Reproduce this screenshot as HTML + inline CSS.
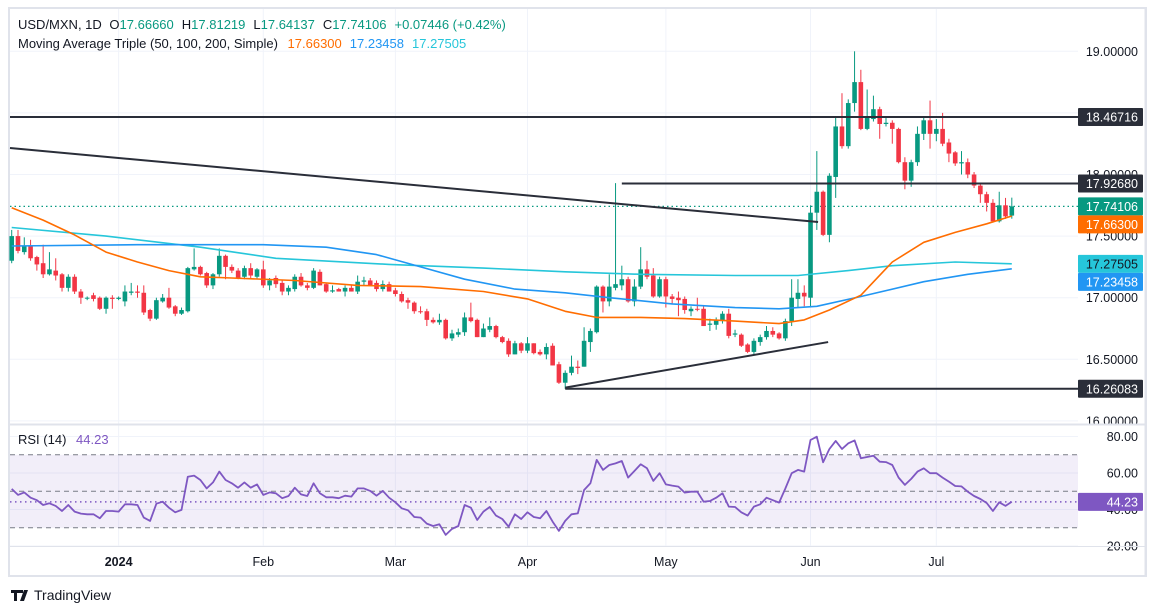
<!DOCTYPE html>
<html><head><meta charset="utf-8"><style>
html,body{margin:0;padding:0;background:#fff;}
svg{display:block;font-family:"Liberation Sans",sans-serif;}
</style></head><body>
<svg id="chart" width="1157" height="613" viewBox="0 0 1157 613" xmlns="http://www.w3.org/2000/svg">
<rect x="0" y="0" width="1157" height="613" fill="#fff"/>
<rect x="9" y="8" width="1137" height="568" fill="none" stroke="#e0e3eb" stroke-width="2"/>
<g id="grid"></g>
<g id="rsiBg"></g>
<g id="overlays"></g>
<g id="candles"></g>
<g id="mas"></g>
<g id="lines"></g>
<g id="rsi"></g>
<g id="axis"></g>
<line x1="9" y1="424.5" x2="1146" y2="424.5" stroke="#e0e3eb" stroke-width="2"/>
<line x1="9" y1="546.5" x2="1146" y2="546.5" stroke="#e0e3eb" stroke-width="1"/>
<line x1="1145" y1="8" x2="1145" y2="576" stroke="#e0e3eb" stroke-width="1"/>
<text x="18" y="29" font-size="13" fill="#131722">USD/MXN, 1D <tspan dx="4">O</tspan><tspan fill="#089981">17.66660</tspan><tspan dx="8">H</tspan><tspan fill="#089981">17.81219</tspan><tspan dx="8">L</tspan><tspan fill="#089981">17.64137</tspan><tspan dx="8">C</tspan><tspan fill="#089981">17.74106</tspan><tspan dx="8" fill="#089981">+0.07446 (+0.42%)</tspan></text>
<text x="18" y="48" font-size="13" fill="#131722">Moving Average Triple (50, 100, 200, Simple) <tspan dx="6" fill="#FF6D00">17.66300</tspan><tspan dx="8" fill="#2196F3">17.23458</tspan><tspan dx="8" fill="#26C6DA">17.27505</tspan></text>
<text x="18" y="444" font-size="13" fill="#131722">RSI (14) <tspan dx="6" fill="#7E57C2">44.23</tspan></text>
<g>
<path d="M11 590h9v3h-3v8h-3v-8h-3z M20 590h3v3h-3z M24 590h4l-4 11h-4z" fill="#131722"/>
<text x="34" y="600" font-size="14" fill="#131722">TradingView</text>
</g>
</svg>
<script>
// ---- data ----
const bars = [
[17.30,17.55,17.28,17.50],[17.50,17.55,17.36,17.38],[17.37,17.49,17.35,17.42],[17.42,17.47,17.30,17.32],[17.33,17.34,17.22,17.27],
[17.28,17.43,17.16,17.19],[17.19,17.37,17.18,17.23],[17.22,17.32,17.14,17.18],[17.19,17.20,17.05,17.08],[17.08,17.19,17.05,17.17],
[17.17,17.19,17.03,17.05],[17.05,17.07,16.95,17.00],[16.995,17.01,16.98,17.00],[17.02,17.04,16.97,16.99],[17.00,17.01,16.90,16.91],
[16.91,17.01,16.87,17.00],[17.00,17.02,16.91,16.99],[16.99,17.01,16.98,17.00],[16.97,17.10,16.93,17.05],[17.04,17.12,17.02,17.05],
[17.05,17.10,17.00,17.04],[17.04,17.10,16.86,16.88],[16.90,16.91,16.81,16.83],[16.83,17.00,16.82,16.98],[16.97,17.03,16.96,17.00],
[17.00,17.08,16.91,16.92],[16.93,16.94,16.85,16.87],[16.87,16.92,16.86,16.90],[16.89,17.25,16.88,17.24],[17.23,17.40,17.22,17.25],
[17.25,17.26,17.18,17.19],[17.20,17.21,17.08,17.10],[17.10,17.20,17.07,17.19],[17.19,17.40,17.17,17.34],[17.34,17.35,17.15,17.25],
[17.25,17.27,17.20,17.22],[17.22,17.24,17.15,17.16],[17.17,17.26,17.15,17.24],[17.24,17.28,17.16,17.18],[17.17,17.24,17.15,17.23],
[17.23,17.30,17.08,17.10],[17.10,17.16,17.06,17.14],[17.16,17.18,17.08,17.11],[17.12,17.14,17.02,17.05],[17.05,17.10,17.02,17.08],
[17.07,17.19,17.05,17.17],[17.17,17.20,17.09,17.10],[17.10,17.12,17.06,17.08],[17.08,17.24,17.07,17.22],[17.21,17.23,17.10,17.10],
[17.11,17.12,17.04,17.05],[17.05,17.10,17.04,17.06],[17.07,17.08,17.05,17.05],[17.05,17.10,17.01,17.08],[17.08,17.10,17.05,17.05],
[17.05,17.18,17.03,17.13],[17.13,17.17,17.10,17.14],[17.14,17.16,17.10,17.10],[17.12,17.14,17.05,17.07],[17.07,17.14,17.05,17.11],
[17.11,17.13,17.05,17.05],[17.06,17.08,17.01,17.03],[17.03,17.05,16.96,16.97],[16.98,17.00,16.91,16.96],[16.96,16.97,16.87,16.89],
[16.89,16.93,16.87,16.885],[16.89,16.91,16.77,16.82],[16.82,16.84,16.79,16.80],[16.80,16.87,16.78,16.82],[16.82,16.83,16.66,16.67],
[16.67,16.74,16.65,16.71],[16.70,16.75,16.68,16.72],[16.72,16.88,16.69,16.84],[16.84,16.96,16.80,16.81],[16.82,16.83,16.68,16.68],
[16.68,16.79,16.68,16.75],[16.74,16.84,16.72,16.77],[16.77,16.78,16.67,16.68],[16.68,16.69,16.63,16.64],[16.65,16.67,16.52,16.54],
[16.54,16.65,16.54,16.63],[16.63,16.64,16.55,16.57],[16.57,16.68,16.55,16.63],[16.63,16.63,16.54,16.55],[16.56,16.58,16.53,16.54],
[16.54,16.63,16.50,16.60],[16.61,16.63,16.45,16.45],[16.46,16.48,16.30,16.31],[16.31,16.41,16.26,16.39],[16.39,16.53,16.37,16.44],
[16.44,16.49,16.38,16.43],[16.44,16.76,16.44,16.65],[16.64,16.75,16.56,16.73],[16.72,17.10,16.71,17.09],[17.09,17.10,16.88,16.97],
[16.97,17.19,16.93,17.09],[17.08,17.93,17.06,17.11],[17.10,17.26,17.06,17.15],[17.15,17.17,16.96,16.97],[16.97,17.15,16.93,17.09],
[17.09,17.41,17.07,17.23],[17.23,17.30,17.15,17.17],[17.18,17.24,17.00,17.01],[17.01,17.17,17.00,17.15],[17.15,17.17,16.92,17.01],
[17.01,17.03,16.95,16.99],[17.00,17.05,16.85,16.98],[16.99,17.01,16.87,16.90],[16.89,16.93,16.85,16.91],[16.91,17.00,16.89,16.905],
[16.91,16.93,16.77,16.77],[16.78,16.83,16.73,16.79],[16.78,16.84,16.74,16.82],[16.81,16.89,16.79,16.87],[16.87,16.91,16.67,16.69],
[16.70,16.74,16.68,16.71],[16.70,16.71,16.60,16.61],[16.62,16.63,16.55,16.56],[16.56,16.67,16.54,16.65],[16.64,16.70,16.61,16.68],
[16.68,16.77,16.66,16.73],[16.73,16.76,16.68,16.70],[16.71,16.72,16.66,16.67],[16.67,16.83,16.65,16.81],[16.81,17.15,16.77,17.00],
[16.99,17.15,16.92,17.04],[17.04,17.10,16.93,17.01],[17.00,17.75,16.93,17.69],[17.69,18.19,17.55,17.86],[17.86,17.87,17.50,17.51],
[17.51,18.01,17.45,17.99],[17.98,18.46,17.81,18.39],[18.39,18.66,18.21,18.23],[18.23,18.61,18.21,18.58],[18.58,19.00,18.51,18.75],
[18.75,18.85,18.36,18.37],[18.37,18.69,18.36,18.46],[18.45,18.64,18.43,18.53],[18.53,18.55,18.29,18.41],[18.41,18.47,18.39,18.42],
[18.42,18.44,18.25,18.37],[18.37,18.38,18.09,18.10],[18.10,18.14,17.88,17.95],[17.95,18.12,17.90,18.10],[18.10,18.39,18.07,18.33],
[18.33,18.46,18.28,18.44],[18.44,18.60,18.21,18.33],[18.33,18.45,18.27,18.37],[18.37,18.50,18.23,18.25],[18.26,18.29,18.10,18.17],
[18.18,18.19,18.07,18.09],[18.09,18.19,18.00,18.10],[18.10,18.13,17.97,18.00],[18.00,18.02,17.89,17.91],[17.91,17.93,17.77,17.84],
[17.84,17.86,17.70,17.77],[17.77,17.80,17.61,17.62],[17.62,17.86,17.61,17.75],[17.75,17.81,17.64,17.66],[17.6666,17.81219,17.64137,17.74106]
];
const ma50Idx = [0,5,10,15,20,25,30,35,45,55,65,75,82,88,93,100,107,115,122,126,130,135,140,145,150,155,159];
const ma50Val = [17.73,17.63,17.51,17.37,17.29,17.22,17.17,17.16,17.14,17.10,17.09,17.05,16.99,16.89,16.84,16.84,16.83,16.81,16.79,16.82,16.90,17.02,17.29,17.45,17.53,17.60,17.663];
const ma100Idx = [0,20,40,50,58,65,72,80,88,95,105,115,122,128,135,145,152,159];
const ma100Val = [17.42,17.43,17.43,17.41,17.35,17.25,17.15,17.07,17.04,17.00,16.95,16.92,16.91,16.93,17.01,17.13,17.19,17.23458];
const ma200Idx = [0,15,30,42,60,75,88,100,115,125,133,140,150,159];
const ma200Val = [17.57,17.50,17.41,17.32,17.27,17.24,17.21,17.19,17.18,17.18,17.22,17.26,17.29,17.27505];
const rsiVals = [51.3,48.0,49.4,46.5,45.1,42.5,43.4,42.0,39.2,42.5,38.9,37.8,37.4,37.4,35.2,39.2,39.2,38.9,42.9,42.9,
42.5,35.6,33.8,43.2,44.3,41.0,38.5,39.8,58.0,58.6,56.2,51.6,54.9,60.8,56.2,54.4,52.0,54.9,52.0,53.8,
48.0,49.4,48.9,46.2,47.4,52.0,48.3,47.4,54.4,48.9,46.7,46.7,46.2,47.6,47.1,51.6,51.6,50.2,47.6,50.2,
46.5,44.0,40.7,39.6,35.9,35.6,32.3,31.0,31.9,26.1,29.4,31.0,42.5,41.0,34.3,38.9,41.4,36.7,34.8,30.6,
37.4,34.8,38.5,35.9,35.2,39.2,33.4,28.3,33.8,37.4,37.9,50.7,54.4,67.2,61.7,64.4,65.3,66.6,57.5,61.1,
64.8,62.6,55.7,59.9,53.8,53.1,52.6,49.3,49.8,49.8,44.3,44.7,46.5,48.9,41.6,41.4,38.5,36.7,41.6,42.9,
46.5,45.1,43.8,51.6,59.9,61.7,60.8,78.1,79.9,65.9,73.2,77.6,73.2,76.3,77.9,68.1,68.8,69.5,66.2,66.0,
64.4,57.5,53.5,56.8,60.8,62.6,59.9,60.0,57.5,55.3,52.9,52.7,49.8,47.4,45.8,43.6,39.2,44.0,42.0,44.23];
const priceTicks = [16.0,16.5,17.0,17.5,18.0,18.5,19.0];
const rsiTicks = [20,40,60,80];
const monthIdx = [17,40,61,82,104,127,147];
const monthLabels = ["2024","Feb","Mar","Apr","May","Jun","Jul"];
const hLevels = [18.46716,17.92680,16.26083];
const hLevelStart = [-2,97,88];
const downTrend = [[-0.3,18.215],[128.2,17.614]];
const upTrend = [[88,16.27],[129.8,16.64]];

// ---- scales ----
const NS='http://www.w3.org/2000/svg';
const L=10,R=1078,STEP=6.29,X0=11.7;
const xS=i=>X0+i*STEP;
const yP=p=>297.7-(p-17)*123.2;
const yR=r=>491.3-(r-50)*1.825;
function mk(tag,attrs,parent){const e=document.createElementNS(NS,tag);for(const k in attrs)e.setAttribute(k,attrs[k]);parent.appendChild(e);return e;}
const G=id=>document.getElementById(id);

// grid
const grid=G('grid');
priceTicks.forEach(p=>{
 const l=mk('line',{x1:L,x2:R,y1:yP(p),y2:yP(p),stroke:'#f0f3fa','stroke-width':1},grid);
 
 
});
rsiTicks.forEach(r=>{
 const l=mk('line',{x1:L,x2:R,y1:yR(r),y2:yR(r),stroke:'#f0f3fa','stroke-width':1},grid);
 
 
});
monthIdx.forEach(i=>{
 const l=mk('line',{x1:xS(i),x2:xS(i),y1:9,y2:546,stroke:'#f0f3fa','stroke-width':1},grid);
 
 
});

// rsi band
const rb=G('rsiBg');
const band=mk('rect',{x:L,y:yR(70),width:R-L,height:yR(30)-yR(70),fill:'rgba(126,87,194,0.1)'},rb);


[70,50,30].forEach(v=>{
 const l=mk('line',{x1:L,x2:R,y1:yR(v),y2:yR(v),stroke:'#787b86','stroke-width':1,'stroke-dasharray':'5,4'},rb);
 
 
});

// last price dotted
const ov=G('overlays');
const lastC=bars[bars.length-1][3];
const lp=mk('line',{x1:L,x2:R,y1:yP(lastC),y2:yP(lastC),stroke:'#089981','stroke-width':1.2,'stroke-dasharray':'1.5,3'},ov);



// candles
const cg=G('candles');
bars.forEach((b,i)=>{
 const [o,h,l,c]=b;const up=c>=o;const col=up?'#089981':'#F23645';const x=xS(i);
 const g=mk('g',{},cg);
 
 
 mk('line',{x1:x,x2:x,y1:yP(h),y2:yP(l),stroke:col,'stroke-width':1},g);
 const top=yP(Math.max(o,c)),bot=yP(Math.min(o,c));
 mk('rect',{x:x-2.3,y:top,width:4.6,height:Math.max(1,bot-top),fill:col},g);
});

// MAs
const mg=G('mas');
function maPath(idx,val,col,name){
 const d=idx.map((i,k)=>(k?'L':'M')+xS(i).toFixed(1)+','+yP(val[k]).toFixed(1)).join(' ');
 const p=mk('path',{d:d,fill:'none',stroke:col,'stroke-width':1.6,'stroke-linejoin':'round'},mg);
 
 
}
maPath(ma200Idx,ma200Val,'#26C6DA','ma-200-line');
maPath(ma100Idx,ma100Val,'#2196F3','ma-100-line');
maPath(ma50Idx,ma50Val,'#FF6D00','ma-50-line');

// drawn lines
const lg=G('lines');
hLevels.forEach((v,k)=>{
 const x1=Math.max(L,xS(hLevelStart[k]));
 const l=mk('line',{x1:x1,x2:R,y1:yP(v),y2:yP(v),stroke:'#2a2e39','stroke-width':2},lg);
 
 
});
[downTrend,upTrend].forEach((t,k)=>{
 const l=mk('line',{x1:Math.max(L,xS(t[0][0])),y1:yP(t[0][1]),x2:xS(t[1][0]),y2:yP(t[1][1]),stroke:'#2a2e39','stroke-width':2},lg);
 
 
});

// rsi line
const rg=G('rsi');
const rd=rsiVals.map((r,i)=>(i?'L':'M')+xS(i).toFixed(1)+','+yR(r).toFixed(1)).join(' ');
const rl=mk('path',{d:rd,fill:'none',stroke:'#7E57C2','stroke-width':1.8,'stroke-linejoin':'round'},rg);


const lastR=rsiVals[rsiVals.length-1];
const rdl=mk('line',{x1:L,x2:R,y1:yR(lastR),y2:yR(lastR),stroke:'#7E57C2','stroke-width':1.5,'stroke-dasharray':'1.5,3.5'},rg);



// axes
const ax=G('axis');
priceTicks.forEach(p=>{
 const t=mk('text',{x:1138,y:yP(p)+4.5,'text-anchor':'end','font-size':12.5,fill:'#131722'},ax);
 t.textContent=p.toFixed(5);
 
 
});
rsiTicks.forEach(r=>{
 const t=mk('text',{x:1138,y:yR(r)+4.5,'text-anchor':'end','font-size':12.5,fill:'#131722'},ax);
 t.textContent=r.toFixed(2);
 
 
});
monthIdx.forEach((i,k)=>{
 const t=mk('text',{x:xS(i),y:566,'text-anchor':'middle','font-size':12.5,fill:'#131722','font-weight':k===0?'bold':'normal'},ax);
 t.textContent=monthLabels[k];
 
 
});
function box(y,val,bg,name,txt){
 const g=mk('g',{},ax);
 
 
 mk('rect',{x:1078,y:y-9,width:65,height:18,fill:bg,rx:1},g);
 const t=mk('text',{x:1138,y:y+4.5,'text-anchor':'end','font-size':12.5,fill:txt||'#fff'},g);
 t.textContent=val;
}
box(yP(hLevels[0]),hLevels[0].toFixed(5),'#2a2e39','level-label-high');
box(yP(hLevels[1]),hLevels[1].toFixed(5),'#2a2e39','level-label-mid');
box(yP(hLevels[2]),hLevels[2].toFixed(5),'#2a2e39','level-label-low');
box(yP(lastC),lastC.toFixed(5),'#089981','last-price-label');
box(yP(lastC)+18,ma50Val[ma50Val.length-1].toFixed(5),'#FF6D00','ma50-label');
box(yP(ma200Val[ma200Val.length-1]),ma200Val[ma200Val.length-1].toFixed(5),'#26C6DA','ma200-label','#131722');
box(yP(ma200Val[ma200Val.length-1])+18,ma100Val[ma100Val.length-1].toFixed(5),'#2196F3','ma100-label');
box(yR(lastR),lastR.toFixed(2),'#7E57C2','rsi-value-label');
</script>
</body></html>
